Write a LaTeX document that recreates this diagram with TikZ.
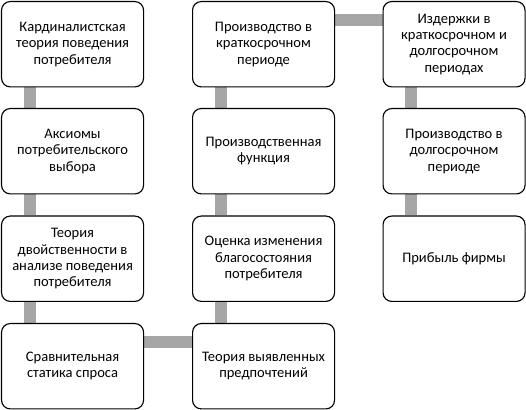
\documentclass[tikz,border=0pt]{standalone}
\usepackage{fontspec}
\setmainfont{Carlito}
\usetikzlibrary{backgrounds}
\definecolor{conngray}{RGB}{166,166,166}
\tikzset{
  box/.style={draw=black, line width=0.85pt, fill=white, rounded corners=6.5pt,
    minimum width=106.5pt, minimum height=64pt, inner sep=0pt, align=center,
    anchor=north west, font=\fontsize{10.9pt}{12.3pt}\selectfont},
  conn/.style={draw=conngray, line width=9pt}
}
\begin{document}
\begin{tikzpicture}[x=0.75pt,y=-0.75pt]
\useasboundingbox (0,0) rectangle (526,410);
% column 1
\node[box] (a1) at (1,1) {Кардиналистская\\теория поведения\\потребителя};
\node[box] (a2) at (1,108) {Аксиомы\\потребительского\\выбора};
\node[box] (a3) at (1,215.5) {Теория\\двойственности в\\анализе поведения\\потребителя};
\node[box] (a4) at (1,323) {Сравнительная\\статика спроса};
% column 2
\node[box] (b4) at (192,323) {Теория выявленных\\предпочтений};
\node[box] (b3) at (192,215.5) {Оценка изменения\\благосостояния\\потребителя};
\node[box] (b2) at (192,108) {Производственная\\функция};
\node[box] (b1) at (192,1) {Производство в\\краткосрочном\\периоде};
% column 3
\node[box] (c1) at (382.5,1) {Издержки в\\краткосрочном и\\долгосрочном\\периодах};
\node[box] (c2) at (382.5,108) {Производство в\\долгосрочном\\периоде};
\node[box] (c3) at (382.5,215.5) {Прибыль фирмы};
\begin{scope}[on background layer]
\draw[conn] ([xshift=21.5pt]a1.south west) -- ([xshift=21.5pt]a2.north west);
\draw[conn] ([xshift=21.5pt]a2.south west) -- ([xshift=21.5pt]a3.north west);
\draw[conn] ([xshift=21.5pt]a3.south west) -- ([xshift=21.5pt]a4.north west);
\draw[conn] ([yshift=-14.5pt]a4.north east) -- ([yshift=-14.5pt]b4.north west);
\draw[conn] ([xshift=21.5pt]b4.north west) -- ([xshift=21.5pt]b3.south west);
\draw[conn] ([xshift=21.5pt]b3.north west) -- ([xshift=21.5pt]b2.south west);
\draw[conn] ([xshift=21.5pt]b2.north west) -- ([xshift=21.5pt]b1.south west);
\draw[conn] ([yshift=-14.5pt]b1.north east) -- ([yshift=-14.5pt]c1.north west);
\draw[conn] ([xshift=21.5pt]c1.south west) -- ([xshift=21.5pt]c2.north west);
\draw[conn] ([xshift=21.5pt]c2.south west) -- ([xshift=21.5pt]c3.north west);
\end{scope}
\end{tikzpicture}
\end{document}
